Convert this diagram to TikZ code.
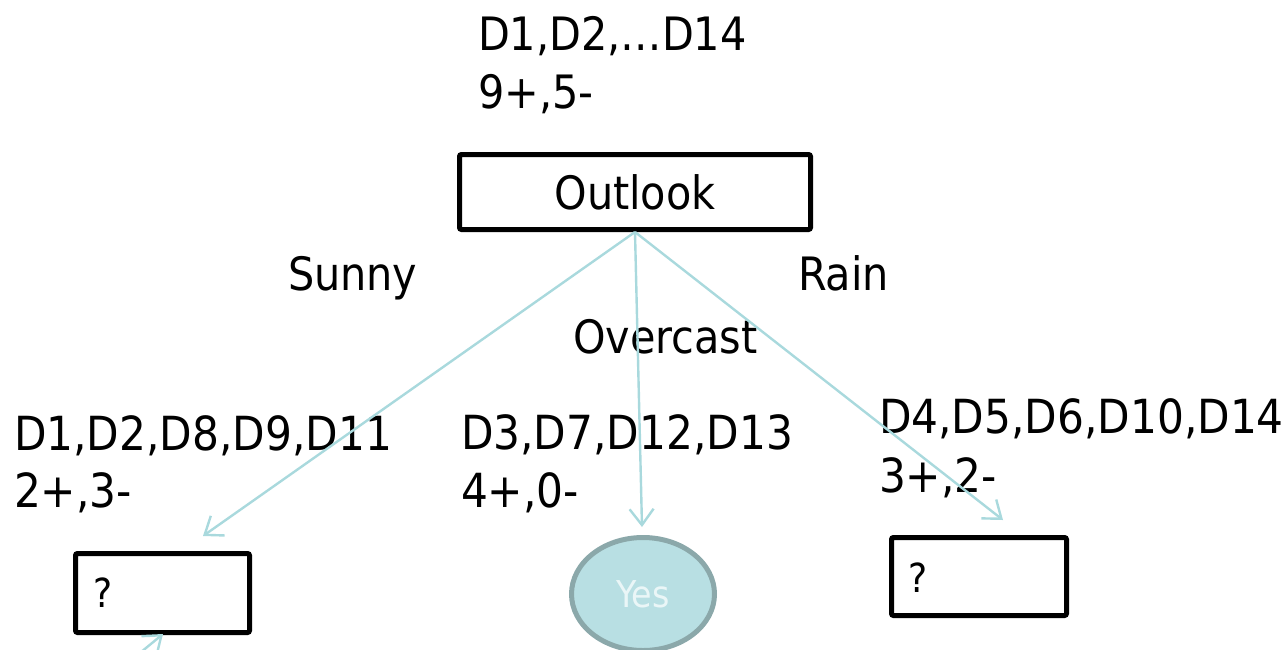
\documentclass[tikz,border=0pt]{standalone}
\usepackage{fontspec}
\setmainfont{DejaVu Sans Condensed}
\usetikzlibrary{arrows.meta,shapes.geometric}
\definecolor{linkcol}{HTML}{A9D9DD}
\definecolor{leaffill}{HTML}{B8DFE3}
\definecolor{leafedge}{HTML}{8BA8AA}
\definecolor{leaftext}{HTML}{EAF6F7}
\tikzset{
  lbl/.style={anchor=base west, inner sep=0pt, outer sep=0pt,
              font=\fontsize{46}{56}\selectfont},
  setlbl/.style={lbl, font=\fontsize{47}{56}\selectfont},
  testbox/.style={draw=black, line width=5pt, rounded corners=2pt,
                  inner sep=0pt, fill=white},
  qmark/.style={anchor=base west, inner sep=0pt,
                font=\fontsize{40}{44}\selectfont},
  leaf/.style={ellipse, draw=leafedge, fill=leaffill, line width=5pt,
               inner sep=0pt, minimum width=143pt, minimum height=113pt,
               text=leaftext, font=\fontsize{37}{40}\selectfont},
  link/.style={draw=linkcol, line width=2.4pt,
               -{Straight Barb[length=16pt,width=24pt,line width=2.4pt]}},
}
\begin{document}
\begin{tikzpicture}[x=1pt,y=-1pt]
\useasboundingbox (0,0) rectangle (1288,649);
\clip (0,0) rectangle (1288,649);

% root node and its sample counts
\node[lbl] (rootset) at (478,50) {D1,D2,…D14};
\node[lbl] (rootcnt) at (478,108) {9+,5-};
\node[testbox, minimum width=351pt, minimum height=75pt,
      font=\fontsize{46}{50}\selectfont] (outlook) at (635,192) {Outlook};

% branch values
\node[lbl] (sunny) at (288,290) {Sunny};
\node[lbl] (rain) at (798,290) {Rain};
\node[lbl] (overcast) at (573,353) {Overcast};

% subsets reaching each branch
\node[setlbl] (setL) at (14,450) {D1,D2,D8,D9,D11};
\node[setlbl] (cntL) at (14,507) {2+,3-};
\node[setlbl] (setM) at (461,449) {D3,D7,D12,D13};
\node[setlbl] (cntM) at (461,507) {4+,0-};
\node[setlbl] (setR) at (879,433) {D4,D5,D6,D10,D14};
\node[setlbl] (cntR) at (879,492) {3+,2-};

% child nodes
\node[testbox, minimum width=174pt, minimum height=79pt] (boxL) at (162.5,593) {};
\node[qmark] (qL) at (93,607) {?};
\node[leaf] (yes) at (643,594) {Yes};
\node[testbox, minimum width=175pt, minimum height=78pt] (boxR) at (979,576.5) {};
\node[qmark] (qR) at (908,592) {?};

% arrow ends
\coordinate (tipL) at (203,536);
\coordinate (tipM) at (642,527);
\coordinate (tipR) at (1003,520);
\coordinate (tipB) at (163,634);
\coordinate (tailB) at (118,671);

% branches
\draw[link] (outlook.south) -- (tipL);
\draw[link] (outlook.south) -- (tipM);
\draw[link] (outlook.south) -- (tipR);
\draw[link] (tailB) -- (tipB);
\end{tikzpicture}
\end{document}
